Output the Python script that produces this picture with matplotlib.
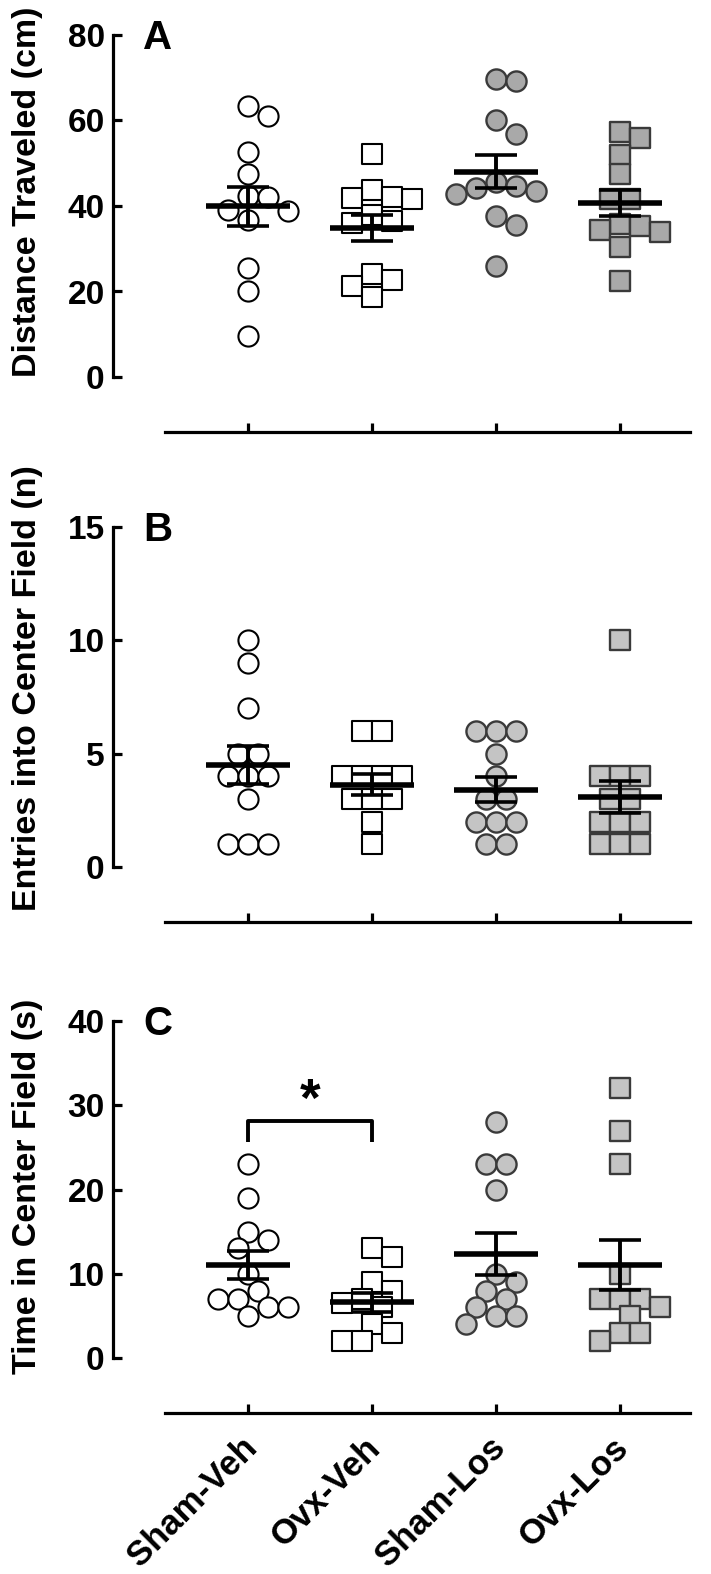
import numpy as np
import matplotlib
matplotlib.use("Agg")
import matplotlib.pyplot as plt
import matplotlib.transforms as mtransforms

plt.rcParams['font.family'] = ['Liberation Sans', 'DejaVu Sans']
plt.rcParams['font.weight'] = 'bold'

groups = ["Sham-Veh", "Ovx-Veh", "Sham-Los", "Ovx-Los"]

# Panel A - distance traveled (cm)
dist_sham_veh = [63.5, 61, 52.7, 47.5, 42.4, 42.1, 39, 38.8, 36.7, 25.6, 20.2, 9.6]
dist_ovx_veh = [52.2, 43.8, 41.6, 41.9, 42.1, 37.9, 36.5, 36, 24, 22.8, 21.2, 18.6]
dist_sham_los = [69.6, 69.2, 60.2, 56.9, 45.6, 44.7, 44.2, 43.5, 42.8, 37.6, 35.5, 25.9]
dist_ovx_los = [57.4, 56, 52, 47.5, 41.6, 41.6, 35.8, 35.3, 34.4, 34, 30.4, 22.4]

# Panel B - entries into center field (n)
entr_sham_veh = [10, 9, 7, 5, 5, 4, 4, 4, 3, 1, 1, 1]
entr_ovx_veh = [6, 6, 4, 4, 4, 4, 3, 3, 3, 2, 1]
entr_sham_los = [6, 6, 6, 5, 4, 3, 3, 2, 2, 2, 1, 1]
entr_ovx_los = [10, 4, 4, 4, 3, 3, 2, 2, 2, 1, 1, 1]

# Panel C - time in center field (s)
time_sham_veh = [23, 19, 15, 14, 13, 10, 8, 7, 7, 6, 6, 5]
time_ovx_veh = [13, 12, 9, 8, 7, 6.5, 6, 4, 3, 2, 2]
time_sham_los = [28, 23, 23, 20, 10, 9, 8, 7, 6, 5, 5, 4]
time_ovx_los = [32, 27, 23, 10, 7, 7, 7, 6, 5, 3, 3, 2]

W, H = 711, 1574
fig = plt.figure(figsize=(W / 100, H / 100), dpi=100)

LEFT, RIGHT = 113, 690
X0 = 248  # pixel x of first group
DX = 124  # pixel spacing between groups
XLIM = ((LEFT - X0) / DX, (RIGHT - X0) / DX)
XAX_START = (165 - X0) / DX
MS = 14.5  # marker size in points
D_PX = MS * 100 / 72


def swarm(ax, xc, values):
    # column scatter: identical values centred in a row, others nudged sideways
    tr = ax.transData
    vals = np.asarray(values, float)
    px_per_x = tr.transform((1, 0))[0] - tr.transform((0, 0))[0]
    xs = np.zeros(len(vals))
    placed = []
    for u in sorted(set(vals), reverse=True):
        idx = np.where(vals == u)[0]
        n = len(idx)
        base = (np.arange(n) - (n - 1) / 2) * D_PX
        px0, py = tr.transform((xc, u))
        offs = base
        for k in [0, 1, -1, 2, -2, 3, -3, 4, -4, 5, -5]:
            offs = base + k * D_PX / 2
            ok = all(np.hypot(px0 + o - qx, py - qy) >= 0.9 * D_PX
                     for o in offs for qx, qy in placed)
            if ok:
                break
        for j, o in zip(idx, offs):
            placed.append((px0 + o, py))
            xs[j] = xc + o / px_per_x
    return xs


def panel(top, bot, ymax, yticks, data, grey, ylabel, label_y, letter, show_x=False):
    ax = fig.add_axes([LEFT / W, 1 - bot / H, (RIGHT - LEFT) / W, (bot - top) / H])
    ax.set_xlim(*XLIM)
    ax.set_ylim(0, ymax)
    for s in ['top', 'right']:
        ax.spines[s].set_visible(False)
    ax.spines['left'].set_bounds(0, ymax)
    ax.spines['bottom'].set_position(('outward', 55 * 0.72))
    ax.spines['bottom'].set_bounds(XAX_START, XLIM[1])
    for s in ['left', 'bottom']:
        ax.spines[s].set_linewidth(2.3)
    ax.set_yticks(yticks)
    ax.tick_params(axis='both', direction='in', length=6.5, width=2.3,
                   labelsize=24, pad=6)
    ax.set_xticks(range(4))
    if show_x:
        ax.set_xticklabels(groups, rotation=45, ha='right', rotation_mode='anchor',
                           fontsize=25, fontweight='bold')
        ax.tick_params(axis='x', pad=13)
        shift = mtransforms.ScaledTranslation(-8 / 100, 0, fig.dpi_scale_trans)
        for lab in ax.get_xticklabels():
            lab.set_transform(lab.get_transform() + shift)
    else:
        ax.set_xticklabels([])

    styles = [('o', 'white', 'black', 1.5), ('s', 'white', 'black', 1.5),
              ('o', grey, '#3a3a3a', 1.7), ('s', grey, '#3a3a3a', 1.7)]
    for i, (vals, (mk, fc, ec, lw)) in enumerate(zip(data, styles)):
        xs = swarm(ax, i, vals)
        ax.scatter(xs, vals, s=MS ** 2, marker=mk, facecolor=fc, edgecolor=ec,
                   linewidth=lw, zorder=3, clip_on=False)
        m = np.mean(vals)
        sem = np.std(vals, ddof=1) / np.sqrt(len(vals))
        ax.hlines(m, i - 0.335, i + 0.335, color='black', lw=4, zorder=4)
        ax.vlines(i, m - sem, m + sem, color='black', lw=2.8, zorder=4)
        ax.hlines([m - sem, m + sem], i - 0.17, i + 0.17, color='black', lw=2.6, zorder=4)

    fig.text(28 / W, 1 - label_y / H, ylabel, rotation=90, ha='center',
             va='center', fontsize=24.5, fontweight='bold')
    fig.text(143 / W, 1 - (top + 3) / H, letter, ha='left', va='center',
             fontsize=29, fontweight='bold')
    return ax


panel(35, 377, 80, [0, 20, 40, 60, 80],
      [dist_sham_veh, dist_ovx_veh, dist_sham_los, dist_ovx_los],
      '#a9a9a9', 'Distance Traveled (cm)', 192, 'A')
panel(527, 867, 15, [0, 5, 10, 15],
      [entr_sham_veh, entr_ovx_veh, entr_sham_los, entr_ovx_los],
      '#c4c4c4', 'Entries into Center Field (n)', 688, 'B')
axc = panel(1021, 1358, 40, [0, 10, 20, 30, 40],
            [time_sham_veh, time_ovx_veh, time_sham_los, time_ovx_los],
            '#c4c4c4', 'Time in Center Field (s)', 1186, 'C', show_x=True)

# significance bracket Sham-Veh vs Ovx-Veh
axc.plot([0, 0, 1, 1], [25.6, 28.1, 28.1, 25.6], color='black', lw=2.8,
         solid_capstyle='butt', clip_on=False)
axc.text(0.5, 30.4, '*', ha='center', va='center', fontsize=38, fontweight='bold')

fig.savefig('out.png', dpi=100)
